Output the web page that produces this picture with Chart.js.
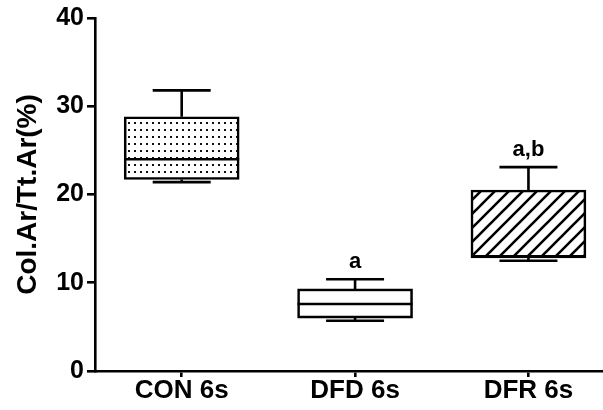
<!DOCTYPE html>
<html>
<head>
<meta charset="utf-8">
<script src="https://cdn.jsdelivr.net/npm/chart.js@4/dist/chart.umd.min.js"></script>
<style>
html,body{margin:0;padding:0;background:#fff;}
#wrap{width:603px;height:410px;position:relative;}
</style>
</head>
<body>
<div id="wrap"><canvas id="c" width="603" height="410"></canvas></div>
<script>
// ---- data ----
const categories = ['CON 6s', 'DFD 6s', 'DFR 6s'];
const minValues = [21.4, 5.7, 12.5];
const q1Values = [21.7, 6.0, 12.8];
const medianValues = [24.0, 7.6, 13.0];
const q3Values = [28.8, 9.3, 20.5];
const maxValues = [31.8, 10.4, 23.1];
const sigLabels = ['', 'a', 'a,b'];
const yTicks = [0, 10, 20, 30, 40];

// ---- patterns ----
function dotPattern() {
  const c = document.createElement('canvas');
  c.width = 6; c.height = 7;
  const g = c.getContext('2d');
  g.fillStyle = '#fff'; g.fillRect(0, 0, 6, 7);
  g.fillStyle = '#111'; g.fillRect(2, 3, 2, 2);
  return g.createPattern(c, 'repeat');
}
function hatchPattern() {
  const s = 14;
  const c = document.createElement('canvas');
  c.width = s; c.height = s;
  const g = c.getContext('2d');
  g.fillStyle = '#fff'; g.fillRect(0, 0, s, s);
  g.strokeStyle = '#000'; g.lineWidth = 2.6;
  g.beginPath();
  g.moveTo(-2, s + 2); g.lineTo(s + 2, -2);
  g.moveTo(-2, 2); g.lineTo(2, -2);
  g.moveTo(s - 2, s + 2); g.lineTo(s + 2, s - 2);
  g.stroke();
  return g.createPattern(c, 'repeat');
}
const fills = [dotPattern(), '#ffffff', hatchPattern()];

const FONT = "'Liberation Sans', Arial, Helvetica, sans-serif";
const LW = 2.6;

const boxExtras = {
  id: 'boxExtras',
  afterDatasetsDraw(chart) {
    const ctx = chart.ctx;
    const xs = chart.scales.x, ys = chart.scales.y;
    const boxHalf = 57.5, capHalf = 29;
    ctx.save();
    ctx.strokeStyle = '#000';
    ctx.lineWidth = LW;
    ctx.lineCap = 'butt';
    for (let i = 0; i < categories.length; i++) {
      const cx = xs.getPixelForValue(i);
      const yMin = ys.getPixelForValue(minValues[i]);
      const yQ1 = ys.getPixelForValue(q1Values[i]);
      const yMed = ys.getPixelForValue(medianValues[i]);
      const yQ3 = ys.getPixelForValue(q3Values[i]);
      const yMax = ys.getPixelForValue(maxValues[i]);
      ctx.beginPath();
      ctx.moveTo(cx - boxHalf, yMed); ctx.lineTo(cx + boxHalf, yMed);
      ctx.moveTo(cx, yQ3); ctx.lineTo(cx, yMax);
      ctx.moveTo(cx - capHalf, yMax); ctx.lineTo(cx + capHalf, yMax);
      ctx.moveTo(cx, yQ1); ctx.lineTo(cx, yMin);
      ctx.moveTo(cx - capHalf, yMin); ctx.lineTo(cx + capHalf, yMin);
      ctx.stroke();
      if (sigLabels[i]) {
        ctx.fillStyle = '#000';
        ctx.font = 'bold 22px ' + FONT;
        ctx.textAlign = 'center';
        ctx.textBaseline = 'alphabetic';
        ctx.fillText(sigLabels[i], cx, yMax - 11);
      }
    }
    ctx.restore();
  }
};

new Chart(document.getElementById('c'), {
  type: 'bar',
  data: {
    datasets: [{
      data: categories.map((c, i) => ({ x: i, y: [q1Values[i], q3Values[i]] })),
      backgroundColor: fills,
      borderColor: '#000',
      borderWidth: LW,
      borderSkipped: false,
      barThickness: 115
    }]
  },
  options: {
    responsive: false,
    animation: false,
    devicePixelRatio: 1,
    layout: { padding: { top: 18, right: 0, left: 0, bottom: 0 } },
    plugins: { legend: { display: false }, tooltip: { enabled: false } },
    scales: {
      x: {
        type: 'linear',
        offset: false,
        min: -0.5,
        max: 2.43,
        afterBuildTicks(scale) { scale.ticks = categories.map((c, i) => ({ value: i })); },
        afterFit(scale) { scale.height = 39; },
        ticks: {
          callback: (v) => categories[v] !== undefined ? categories[v] : '',
          color: '#000',
          font: { family: FONT, size: 26, weight: 'bold' },
          padding: -2,
          maxRotation: 0,
          autoSkip: false
        },
        grid: { offset: false, drawOnChartArea: false, drawTicks: true, tickLength: 6, color: '#000', lineWidth: LW },
        border: { display: true, color: '#000', width: LW }
      },
      y: {
        min: 0,
        max: 40,
        afterBuildTicks(scale) { scale.ticks = yTicks.map(v => ({ value: v })); },
        afterFit(scale) { scale.width = 95; },
        ticks: {
          color: '#000',
          font: { family: FONT, size: 25, weight: 'bold' },
          padding: 3
        },
        title: {
          display: true,
          text: 'Col.Ar/Tt.Ar(%)',
          color: '#000',
          font: { family: FONT, size: 28, weight: 'bold' },
          padding: { top: 11, bottom: 0 }
        },
        grid: { drawOnChartArea: false, drawTicks: true, tickLength: 8, color: '#000', lineWidth: LW },
        border: { display: true, color: '#000', width: LW }
      }
    }
  },
  plugins: [boxExtras]
});
</script>
</body>
</html>
